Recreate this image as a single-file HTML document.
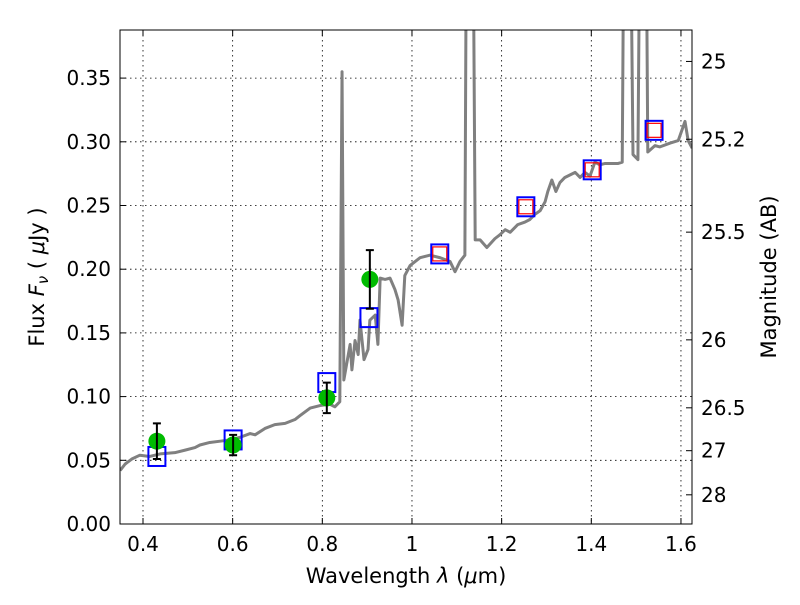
<!DOCTYPE html>
<html><head><meta charset="utf-8"><style>
body{margin:0;background:#fff;width:800px;height:600px;overflow:hidden}
svg text{font-family:"DejaVu Sans","Liberation Sans",sans-serif;fill:#000}
</style></head><body>
<svg id="chart" width="800" height="600" xmlns="http://www.w3.org/2000/svg">
<defs><clipPath id="clip"><rect x="120" y="30" width="572" height="494"/></clipPath></defs>
<g id="grid"></g>
<g id="spec" clip-path="url(#clip)"></g>
<g id="marks"></g>
<rect x="120" y="30" width="572" height="494" fill="none" stroke="#000" stroke-width="1"/>
<g id="axes"></g>
<text x="406" y="583" font-size="21" text-anchor="middle">Wavelength  <tspan font-style="italic">λ</tspan> (<tspan font-style="italic">μ</tspan>m)</text>
<text transform="translate(44,277) rotate(-90)" font-size="21" text-anchor="middle">Flux  <tspan font-style="italic">F<tspan font-size="15" dy="4">ν</tspan></tspan><tspan dy="-4"> (  </tspan><tspan font-style="italic">μ</tspan>Jy )</text>
<text transform="translate(776,277) rotate(-90)" font-size="21" text-anchor="middle">Magnitude (AB)</text>
</svg>
<script>
const specLam=[0.349,0.360,0.375,0.393,0.415,0.438,0.471,0.494,0.516,0.527,0.549,0.572,0.594,0.616,0.639,0.650,0.672,0.694,0.717,0.739,0.750,0.773,0.795,0.817,0.828,0.839,0.844,0.848,0.862,0.866,0.873,0.880,0.884,0.893,0.902,0.906,0.918,0.924,0.929,0.940,0.951,0.962,0.969,0.978,0.984,0.996,1.018,1.040,1.063,1.085,1.096,1.107,1.118,1.123,1.134,1.141,1.152,1.167,1.185,1.196,1.208,1.219,1.236,1.252,1.263,1.274,1.286,1.297,1.303,1.312,1.321,1.330,1.341,1.364,1.375,1.386,1.397,1.408,1.419,1.431,1.460,1.469,1.475,1.484,1.493,1.504,1.511,1.520,1.526,1.542,1.553,1.576,1.594,1.609,1.616,1.625];
const specFlux=[0.042,0.047,0.051,0.054,0.053,0.055,0.056,0.058,0.060,0.062,0.064,0.065,0.066,0.068,0.071,0.070,0.075,0.078,0.079,0.082,0.085,0.091,0.093,0.094,0.092,0.096,0.355,0.113,0.141,0.121,0.144,0.133,0.160,0.129,0.137,0.160,0.164,0.141,0.193,0.192,0.193,0.184,0.176,0.156,0.195,0.203,0.209,0.211,0.209,0.206,0.198,0.206,0.211,0.6,0.6,0.223,0.223,0.217,0.224,0.227,0.231,0.229,0.235,0.237,0.239,0.243,0.246,0.253,0.261,0.270,0.261,0.268,0.272,0.276,0.272,0.276,0.273,0.284,0.282,0.283,0.283,0.284,0.6,0.6,0.290,0.286,0.6,0.6,0.292,0.297,0.296,0.299,0.301,0.316,0.301,0.295];
const modelLam=[0.431,0.601,0.810,0.904,1.062,1.254,1.402,1.540];
const modelFlux=[0.053,0.066,0.111,0.162,0.212,0.249,0.278,0.309];
const redLam=[1.062,1.254,1.402,1.540];
const redFlux=[0.212,0.249,0.278,0.309];
const obsLam=[0.431,0.601,0.810,0.906];
const obsFlux=[0.065,0.062,0.099,0.192];
const obsErr=[0.014,0.008,0.012,0.023];
const xTicks=[0.4,0.6,0.8,1.0,1.2,1.4,1.6];
const xTickLabels=["0.4","0.6","0.8","1","1.2","1.4","1.6"];
const yTicks=[0,0.05,0.10,0.15,0.20,0.25,0.30,0.35];
const yTickLabels=["0.00","0.05","0.10","0.15","0.20","0.25","0.30","0.35"];
const magTicks=[25,25.2,25.5,26,26.5,27,28];
const magTickLabels=["25","25.2","25.5","26","26.5","27","28"];

const NS="http://www.w3.org/2000/svg";
const X=l=>143+(l-0.4)*448.3;
const Y=f=>524-f*1274;
function mk(tag,attrs,parent){const e=document.createElementNS(NS,tag);for(const k in attrs)e.setAttribute(k,attrs[k]);parent.appendChild(e);return e;}
const grid=document.getElementById('grid'),axes=document.getElementById('axes'),spec=document.getElementById('spec'),marks=document.getElementById('marks');
xTicks.forEach((t,i)=>{const x=X(t);
 const g=mk('line',{x1:x,x2:x,y1:30,y2:524,stroke:'#000','stroke-dasharray':'1.5,3.5','stroke-width':0.8},grid);
 
 mk('line',{x1:x,x2:x,y1:524,y2:518,stroke:'#000'},axes);mk('line',{x1:x,x2:x,y1:30,y2:36,stroke:'#000'},axes);
 const tx=mk('text',{x:x,y:551,'font-size':20,'text-anchor':'middle'},axes);tx.textContent=xTickLabels[i];
 });
yTicks.forEach((t,i)=>{const y=Y(t);
 const g=mk('line',{x1:120,x2:692,y1:y,y2:y,stroke:'#000','stroke-dasharray':'1.5,3.5','stroke-width':0.8},grid);
 
 mk('line',{x1:120,x2:126,y1:y,y2:y,stroke:'#000'},axes);
 const tx=mk('text',{x:111,y:y+7,'font-size':20,'text-anchor':'end'},axes);tx.textContent=yTickLabels[i];
 });
magTicks.forEach((m,i)=>{const y=Y(Math.pow(10,(23.9-m)/2.5));
 mk('line',{x1:686,x2:692,y1:y,y2:y,stroke:'#000'},axes);
 const tx=mk('text',{x:701,y:y+7,'font-size':20},axes);tx.textContent=magTickLabels[i];
 });
const pl=mk('polyline',{points:specLam.map((l,i)=>X(l)+','+Y(specFlux[i])).join(' '),fill:'none',stroke:'#808080','stroke-width':3,'stroke-linejoin':'round'},spec);

modelLam.forEach((l,i)=>{const r=mk('rect',{x:X(l)-8.5,y:Y(modelFlux[i])-9.5,width:17,height:19,fill:'none',stroke:'#0000ff','stroke-width':2},marks);
 });
redLam.forEach((l,i)=>{const r=mk('rect',{x:X(l)-7,y:Y(redFlux[i])-7,width:14,height:14,fill:'none',stroke:'#ff0000','stroke-width':1.2},marks);
 });
obsLam.forEach((l,i)=>{const x=X(l);
 const c=mk('circle',{cx:x,cy:Y(obsFlux[i]),r:8.5,fill:'#00bb00'},marks);
 
 const y1=Y(obsFlux[i]+obsErr[i]),y2=Y(obsFlux[i]-obsErr[i]);
 const e=mk('path',{d:`M${x},${y1}V${y2}M${x-4},${y1}H${x+4}M${x-4},${y2}H${x+4}`,stroke:'#000','stroke-width':2,fill:'none'},marks);
 });
</script>
</body></html>
